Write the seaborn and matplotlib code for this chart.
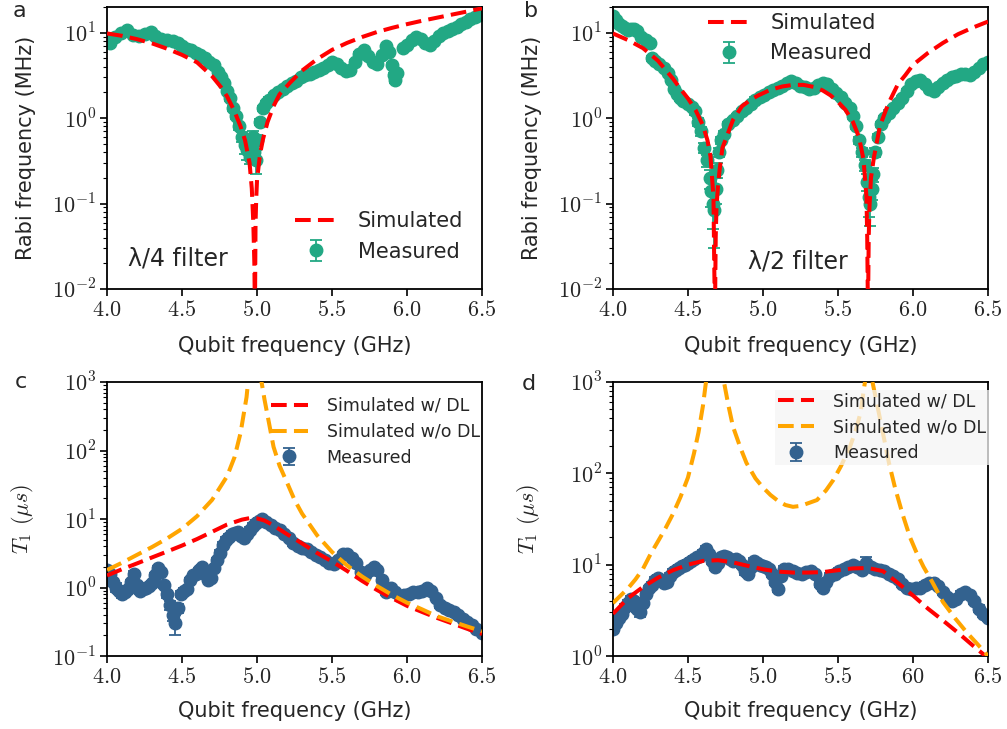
import numpy as np
import pandas as pd
import seaborn as sns
import matplotlib.pyplot as plt
from matplotlib import ticker

# ---------------- data ----------------
# panel a : lambda/4 filter, Rabi frequency (MHz)
fa_meas = [4.00, 4.02, 4.05, 4.09, 4.13, 4.17, 4.21, 4.25, 4.29, 4.32,
           4.36, 4.40, 4.44, 4.47, 4.50, 4.53, 4.56, 4.59, 4.62, 4.65,
           4.68, 4.71, 4.74, 4.76, 4.78, 4.80, 4.82, 4.84, 4.86, 4.88,
           4.90, 4.92, 4.935, 4.95, 4.96, 4.97, 4.98, 4.99, 5.00, 5.02,
           5.04, 5.06, 5.08, 5.11, 5.14, 5.17, 5.20, 5.23, 5.26, 5.29,
           5.32, 5.35, 5.38, 5.41, 5.44, 5.47, 5.50, 5.53, 5.56, 5.59,
           5.62, 5.65, 5.68, 5.71, 5.74, 5.77, 5.80, 5.83, 5.86, 5.88,
           5.90, 5.91, 5.92, 5.93, 5.97, 6.00, 6.03, 6.06, 6.09, 6.12,
           6.15, 6.18, 6.21, 6.24, 6.27, 6.30, 6.33, 6.36, 6.39, 6.42,
           6.45, 6.48, 6.50]
va_meas = [8.0, 7.5, 8.8, 9.8, 10.8, 9.5, 9.2, 9.6, 10.1, 9.2,
           8.5, 8.3, 7.9, 7.6, 7.0, 6.5, 6.2, 5.8, 5.5, 5.0,
           4.6, 4.2, 3.5, 3.0, 2.6, 2.1, 1.7, 1.3, 1.05, 0.8,
           0.6, 0.48, 0.42, 0.35, 0.5, 0.6, 0.4, 0.32, 0.55, 0.9,
           1.3, 1.5, 1.65, 1.85, 2.0, 2.2, 2.35, 2.55, 2.75, 3.0,
           3.2, 3.3, 3.5, 3.7, 3.9, 4.2, 4.5, 4.3, 3.9, 3.6,
           3.7, 4.6, 5.7, 6.2, 5.3, 4.5, 4.3, 5.5, 7.0, 6.0,
           4.2, 3.2, 2.8, 3.4, 6.6, 7.2, 8.2, 8.9, 8.4, 7.6,
           7.2, 8.0, 9.2, 10.0, 10.6, 11.2, 11.8, 12.6, 13.4, 14.5,
           15.3, 16.2, 16.8]
ea_meas = [0.3, 0.3, 0.3, 0.3, 0.3, 0.3, 0.3, 0.3, 0.3, 0.3,
           0.3, 0.3, 0.3, 0.3, 0.3, 0.3, 0.2, 0.2, 0.2, 0.2,
           0.2, 0.2, 0.2, 0.15, 0.15, 0.1, 0.1, 0.1, 0.08, 0.08,
           0.08, 0.1, 0.1, 0.06, 0.08, 0.1, 0.1, 0.1, 0.08, 0.08,
           0.08, 0.1, 0.1, 0.1, 0.1, 0.1, 0.1, 0.1, 0.1, 0.1,
           0.15, 0.15, 0.15, 0.15, 0.15, 0.15, 0.15, 0.15, 0.15, 0.15,
           0.2, 0.2, 0.2, 0.2, 0.2, 0.2, 0.2, 0.2, 0.2, 0.2,
           0.2, 0.2, 0.2, 0.2, 0.2, 0.2, 0.2, 0.2, 0.2, 0.2,
           0.2, 0.2, 0.2, 0.2, 0.2, 0.2, 0.2, 0.2, 0.2, 0.2,
           0.2, 0.2, 0.2]
fa_sim = [4.00, 4.10, 4.20, 4.30, 4.40, 4.50, 4.60, 4.70, 4.76, 4.80,
          4.85, 4.89, 4.92, 4.95, 4.965, 4.975, 4.982, 4.986, 4.99, 4.995,
          5.00, 5.02, 5.04, 5.07, 5.11, 5.15, 5.22, 5.30, 5.40, 5.50,
          5.60, 5.70, 5.80, 5.90, 6.00, 6.10, 6.20, 6.30, 6.40, 6.50]
va_sim = [9.8, 9.2, 8.4, 7.5, 6.5, 5.5, 4.5, 3.1, 2.3, 1.8,
          1.2, 0.8, 0.55, 0.3, 0.15, 0.06, 0.02, 0.005, 0.06, 0.12,
          0.19, 0.38, 0.57, 0.9, 1.38, 1.9, 2.6, 3.6, 4.9, 6.3,
          7.6, 8.9, 10.2, 11.4, 12.6, 13.8, 15.0, 16.3, 17.7, 19.3]

# panel b : lambda/2 filter
fb_meas = [4.00, 4.02, 4.04, 4.06, 4.08, 4.10, 4.12, 4.14, 4.16, 4.19,
           4.22, 4.25, 4.26, 4.28, 4.31, 4.34, 4.37, 4.39, 4.41, 4.43,
           4.45, 4.47, 4.50, 4.53, 4.55, 4.57, 4.59, 4.61, 4.63, 4.645,
           4.655, 4.665, 4.675, 4.685, 4.695, 4.705, 4.72, 4.74, 4.77, 4.80,
           4.83, 4.86, 4.89, 4.92, 4.95, 4.98, 5.01, 5.04, 5.07, 5.10,
           5.13, 5.16, 5.19, 5.22, 5.25, 5.28, 5.31, 5.34, 5.37, 5.40,
           5.43, 5.46, 5.49, 5.52, 5.55, 5.58, 5.60, 5.62, 5.64, 5.66,
           5.68, 5.695, 5.705, 5.715, 5.725, 5.735, 5.75, 5.77, 5.79, 5.81,
           5.84, 5.87, 5.90, 5.93, 5.96, 5.99, 6.02, 6.05, 6.08, 6.11,
           6.14, 6.17, 6.20, 6.23, 6.26, 6.29, 6.32, 6.35, 6.38, 6.41,
           6.44, 6.47, 6.50]
vb_meas = [15.5, 14.0, 12.8, 12.0, 11.3, 10.8, 11.2, 11.0, 10.5, 9.0,
           8.3, 7.6, 5.0, 4.7, 4.3, 3.9, 3.4, 2.8, 2.2, 1.9,
           1.7, 1.6, 1.45, 1.35, 1.2, 0.9, 0.7, 0.45, 0.32, 0.2,
           0.14, 0.1, 0.085, 0.15, 0.25, 0.4, 0.55, 0.65, 0.85, 0.95,
           1.05, 1.2, 1.3, 1.45, 1.65, 1.75, 1.85, 2.0, 2.15, 2.25,
           2.35, 2.55, 2.7, 2.6, 2.4, 2.3, 2.2, 2.25, 2.45, 2.6,
           2.5, 2.2, 1.95, 1.75, 1.5, 1.3, 1.05, 0.8, 0.55, 0.4,
           0.28, 0.18, 0.12, 0.1, 0.15, 0.22, 0.4, 0.6, 0.85, 1.0,
           1.15, 1.3, 1.5, 1.7, 2.1, 2.5, 2.7, 2.8, 2.5, 2.2,
           2.1, 2.3, 2.6, 2.8, 3.0, 3.1, 3.3, 3.3, 3.2, 3.5,
           3.9, 4.3, 4.6]
eb_meas = [0.4, 0.4, 0.4, 0.4, 0.4, 0.4, 0.4, 0.4, 0.4, 0.4,
           0.3, 0.3, 0.3, 0.3, 0.3, 0.2, 0.2, 0.15, 0.1, 0.1,
           0.1, 0.1, 0.1, 0.1, 0.1, 0.1, 0.08, 0.06, 0.05, 0.05,
           0.05, 0.05, 0.055, 0.05, 0.05, 0.05, 0.05, 0.05, 0.06, 0.06,
           0.08, 0.08, 0.08, 0.08, 0.1, 0.1, 0.1, 0.1, 0.1, 0.1,
           0.1, 0.1, 0.1, 0.1, 0.1, 0.1, 0.1, 0.1, 0.1, 0.1,
           0.1, 0.1, 0.1, 0.1, 0.1, 0.1, 0.08, 0.06, 0.05, 0.05,
           0.04, 0.04, 0.05, 0.045, 0.04, 0.04, 0.05, 0.05, 0.06, 0.06,
           0.1, 0.1, 0.1, 0.1, 0.1, 0.1, 0.1, 0.1, 0.1, 0.1,
           0.1, 0.1, 0.1, 0.1, 0.1, 0.1, 0.1, 0.1, 0.1, 0.1,
           0.1, 0.1, 0.1]
fb_sim = [4.00, 4.10, 4.20, 4.30, 4.40, 4.45, 4.50, 4.55, 4.60, 4.63,
          4.65, 4.67, 4.675, 4.68, 4.685, 4.69, 4.70, 4.71, 4.73, 4.77,
          4.80, 4.86, 4.92, 4.97, 5.05, 5.13, 5.20, 5.27, 5.35, 5.40,
          5.45, 5.50, 5.55, 5.60, 5.64, 5.67, 5.69, 5.695, 5.70, 5.705,
          5.71, 5.72, 5.74, 5.78, 5.82, 5.85, 5.90, 5.95, 6.00, 6.10,
          6.20, 6.30, 6.40, 6.50]
vb_sim = [9.8, 8.2, 6.6, 4.7, 2.9, 2.2, 1.7, 1.25, 0.82, 0.55,
          0.36, 0.12, 0.02, 0.005, 0.04, 0.09, 0.16, 0.24, 0.45, 0.69,
          0.95, 1.38, 1.65, 1.85, 2.15, 2.35, 2.45, 2.45, 2.3, 2.1,
          1.85, 1.55, 1.25, 0.9, 0.6, 0.33, 0.12, 0.04, 0.005, 0.04,
          0.09, 0.2, 0.35, 0.81, 1.25, 1.66, 2.5, 3.2, 4.2, 5.8,
          7.6, 9.6, 11.5, 13.5]

# panel c : T1 (us), lambda/4 filter
fc_meas = [4.00, 4.02, 4.04, 4.06, 4.08, 4.10, 4.12, 4.14, 4.16, 4.18,
           4.20, 4.22, 4.24, 4.26, 4.28, 4.30, 4.32, 4.34, 4.36, 4.38,
           4.40, 4.42, 4.44, 4.45, 4.47, 4.49, 4.51, 4.53, 4.55, 4.57,
           4.59, 4.61, 4.63, 4.65, 4.67, 4.69, 4.71, 4.73, 4.75, 4.77,
           4.79, 4.81, 4.83, 4.85, 4.87, 4.89, 4.91, 4.93, 4.95, 4.97,
           4.99, 5.01, 5.03, 5.06, 5.09, 5.12, 5.15, 5.18, 5.21, 5.24,
           5.27, 5.30, 5.33, 5.36, 5.39, 5.42, 5.45, 5.48, 5.51, 5.54,
           5.57, 5.60, 5.63, 5.66, 5.69, 5.72, 5.75, 5.78, 5.80, 5.83,
           5.86, 5.89, 5.92, 5.95, 5.98, 6.01, 6.04, 6.07, 6.10, 6.13,
           6.16, 6.19, 6.22, 6.25, 6.28, 6.31, 6.34, 6.37, 6.40, 6.43,
           6.46, 6.50]
vc_meas = [1.8, 1.6, 1.2, 1.0, 0.9, 0.8, 0.85, 0.95, 1.2, 1.6,
           1.1, 0.9, 0.95, 1.0, 1.05, 1.15, 1.5, 1.9, 1.7, 1.1,
           0.8, 0.55, 0.4, 0.3, 0.5, 0.8, 0.9, 0.95, 1.3, 1.5,
           1.6, 1.8, 2.0, 1.6, 1.3, 1.4, 1.9, 2.5, 3.2, 4.2,
           5.0, 5.5, 6.0, 6.2, 6.5, 5.6, 5.2, 6.0, 7.0, 8.0,
           8.8, 9.5, 10.0, 9.0, 8.2, 7.5, 6.8, 6.0, 5.3, 4.4,
           4.0, 3.8, 3.6, 3.3, 3.0, 2.8, 2.5, 2.3, 2.2, 2.5,
           3.1, 3.1, 2.7, 2.3, 1.7, 1.5, 1.8, 2.0, 1.8, 1.3,
           0.85, 1.0, 0.85, 0.75, 0.78, 0.8, 0.85, 0.85, 0.9, 1.0,
           0.9, 0.7, 0.55, 0.5, 0.47, 0.44, 0.4, 0.35, 0.31, 0.28,
           0.25, 0.22]
ec_meas = [0.15, 0.15, 0.15, 0.15, 0.1, 0.1, 0.1, 0.1, 0.1, 0.15,
           0.1, 0.1, 0.1, 0.1, 0.1, 0.1, 0.15, 0.15, 0.15, 0.1,
           0.1, 0.08, 0.08, 0.1, 0.08, 0.08, 0.08, 0.08, 0.1, 0.1,
           0.1, 0.15, 0.15, 0.15, 0.1, 0.1, 0.15, 0.2, 0.3, 0.4,
           0.5, 0.5, 0.6, 0.6, 0.6, 0.5, 0.5, 0.5, 0.6, 0.8,
           0.8, 0.8, 0.8, 0.6, 0.6, 0.5, 0.5, 0.4, 0.4, 0.3,
           0.3, 0.3, 0.3, 0.2, 0.2, 0.2, 0.2, 0.2, 0.2, 0.2,
           0.2, 0.2, 0.2, 0.2, 0.15, 0.1, 0.1, 0.15, 0.1, 0.1,
           0.06, 0.06, 0.06, 0.05, 0.05, 0.05, 0.06, 0.06, 0.06, 0.06,
           0.06, 0.05, 0.04, 0.04, 0.03, 0.03, 0.03, 0.03, 0.02, 0.02,
           0.02, 0.02]
fc_sim1 = [4.00, 4.10, 4.20, 4.30, 4.40, 4.50, 4.60, 4.70, 4.80, 4.90,
           4.95, 5.00, 5.05, 5.10, 5.20, 5.30, 5.40, 5.50, 5.60, 5.70,
           5.80, 5.90, 6.00, 6.10, 6.20, 6.30, 6.40, 6.50]
vc_sim1 = [1.5, 1.85, 2.25, 2.75, 3.35, 4.1, 5.1, 6.5, 8.3, 9.8,
           10.3, 10.2, 9.5, 8.3, 6.0, 4.4, 3.2, 2.4, 1.75, 1.25,
           0.92, 0.7, 0.54, 0.44, 0.36, 0.3, 0.25, 0.21]
fc_sim2 = [4.00, 4.10, 4.20, 4.30, 4.40, 4.50, 4.60, 4.70, 4.80, 4.85,
           4.89, 4.93, 4.94, 4.96, 4.985, 5.01, 5.03, 5.05, 5.08, 5.11,
           5.15, 5.20, 5.25, 5.30, 5.40, 5.50, 5.60, 5.70, 5.80, 5.90,
           6.00, 6.10, 6.20, 6.30, 6.40, 6.50]
vc_sim2 = [1.8, 2.3, 3.0, 3.9, 5.2, 7.2, 11.0, 19, 42, 80,
           180, 600, 1000, 3000, 8000, 3000, 1000, 550, 250, 113,
           60, 34, 19, 12, 5.8, 3.3, 2.1, 1.45, 1.05, 0.78,
           0.6, 0.48, 0.38, 0.32, 0.27, 0.23]

# panel d : T1 (us), lambda/2 filter
fd_meas = [4.00, 4.02, 4.04, 4.06, 4.08, 4.10, 4.12, 4.14, 4.16, 4.18,
           4.20, 4.22, 4.24, 4.26, 4.28, 4.30, 4.32, 4.34, 4.36, 4.38,
           4.40, 4.42, 4.44, 4.46, 4.48, 4.50, 4.52, 4.54, 4.56, 4.58,
           4.60, 4.62, 4.64, 4.66, 4.68, 4.70, 4.72, 4.74, 4.76, 4.78,
           4.80, 4.82, 4.84, 4.86, 4.88, 4.90, 4.92, 4.94, 4.96, 4.98,
           5.00, 5.02, 5.04, 5.06, 5.08, 5.10, 5.12, 5.14, 5.17, 5.20,
           5.23, 5.26, 5.29, 5.32, 5.35, 5.38, 5.40, 5.42, 5.45, 5.48,
           5.51, 5.54, 5.57, 5.60, 5.63, 5.66, 5.69, 5.72, 5.75, 5.78,
           5.81, 5.84, 5.87, 5.90, 5.93, 5.96, 5.99, 6.02, 6.05, 6.08,
           6.11, 6.14, 6.17, 6.20, 6.23, 6.26, 6.29, 6.32, 6.35, 6.38,
           6.41, 6.44, 6.47, 6.50]
vd_meas = [2.0, 2.3, 2.6, 2.9, 3.4, 3.8, 4.2, 4.0, 3.3, 3.0,
           3.8, 4.8, 5.5, 6.0, 6.8, 7.2, 6.8, 6.3, 6.5, 7.5,
           8.3, 8.8, 9.2, 9.6, 10.0, 10.5, 11.0, 11.5, 12.0, 12.5,
           13.5, 15.0, 13.0, 11.0, 9.5, 10.5, 12.0, 12.5, 12.0, 11.5,
           11.0, 11.5, 11.0, 10.0, 8.5, 8.0, 9.5, 11.0, 10.5, 10.0,
           9.6, 9.4, 9.0, 8.0, 6.5, 5.4, 7.5, 9.0, 9.0, 8.5,
           8.2, 8.0, 8.3, 8.6, 8.0, 6.2, 5.6, 6.5, 7.5, 8.0,
           8.5, 9.0, 9.5, 10.0, 9.4, 8.8, 10.5, 9.5, 9.0, 8.7,
           8.5, 8.0, 7.5, 7.0, 6.2, 5.6, 5.4, 5.5, 5.6, 6.0,
           6.3, 6.3, 5.8, 5.0, 4.4, 4.0, 4.2, 4.8, 5.0, 4.6,
           4.0, 3.3, 2.9, 2.6]
ed_meas = [0.2, 0.2, 0.2, 0.2, 0.3, 0.3, 0.3, 0.3, 0.3, 0.3,
           0.3, 0.4, 0.4, 0.5, 0.5, 0.6, 0.5, 0.5, 0.5, 0.6,
           0.6, 0.7, 0.7, 0.7, 0.8, 0.8, 0.8, 0.9, 0.9, 0.9,
           1.0, 1.0, 1.0, 0.9, 0.8, 0.8, 0.9, 0.9, 0.9, 0.9,
           0.9, 0.9, 0.9, 0.8, 0.7, 0.6, 0.7, 0.8, 0.8, 0.8,
           0.7, 0.7, 0.7, 0.6, 0.5, 0.4, 0.6, 0.7, 0.7, 0.6,
           0.6, 0.6, 0.6, 0.6, 0.6, 0.5, 0.4, 0.5, 0.6, 0.6,
           0.6, 0.7, 0.7, 0.8, 0.7, 0.7, 1.5, 0.7, 0.7, 0.6,
           0.6, 0.6, 0.5, 0.5, 0.5, 0.4, 0.4, 0.4, 0.4, 0.4,
           0.5, 0.5, 0.4, 0.4, 0.3, 0.3, 0.3, 0.4, 0.4, 0.3,
           0.3, 0.3, 0.2, 0.2]
fd_sim1 = [4.00, 4.10, 4.20, 4.30, 4.40, 4.50, 4.60, 4.70, 4.80, 4.90,
           5.00, 5.10, 5.20, 5.30, 5.40, 5.50, 5.60, 5.70, 5.80, 5.90,
           6.00, 6.10, 6.20, 6.30, 6.40, 6.50]
vd_sim1 = [2.9, 4.3, 5.7, 7.2, 8.7, 10.0, 11.0, 11.2, 10.6, 9.7,
           8.9, 8.4, 8.2, 8.2, 8.3, 8.7, 9.1, 9.2, 8.5, 6.3,
           4.6, 3.3, 2.45, 1.8, 1.3, 0.95]
fd_sim2 = [4.00, 4.10, 4.15, 4.20, 4.25, 4.30, 4.35, 4.40, 4.45, 4.50,
           4.54, 4.57, 4.60, 4.62, 4.65, 4.68, 4.71, 4.74, 4.77, 4.80,
           4.85, 4.89, 4.95, 5.00, 5.05, 5.10, 5.15, 5.20, 5.25, 5.30,
           5.36, 5.42, 5.47, 5.52, 5.58, 5.62, 5.65, 5.68, 5.705, 5.73,
           5.77, 5.80, 5.84, 5.88, 5.93, 5.98, 6.02, 6.07, 6.13, 6.20,
           6.28, 6.36, 6.43, 6.50]
vd_sim2 = [3.8, 5.5, 6.9, 9.0, 13, 18, 25, 36, 55, 90,
           165, 280, 550, 1000, 3000, 8000, 3000, 1000, 550, 325,
           190, 130, 88, 70, 58, 50, 45, 43, 44, 47,
           51, 65, 85, 120, 195, 300, 460, 1000, 4000, 1000,
           480, 275, 130, 70, 36, 20, 14, 9.5, 6.4, 3.9,
           2.6, 1.8, 1.35, 1.0]

x_ticks = [4.0, 4.5, 5.0, 5.5, 6.0, 6.5]
x_labels_abc = ["4.0", "4.5", "5.0", "5.5", "6.0", "6.5"]
x_labels_d = ["4.0", "4.5", "5.0", "5.5", "60", "6.5"]

# ---------------- style ----------------
sns.set_style("ticks")
plt.rcParams["font.family"] = ["DejaVu Sans"]
plt.rcParams["mathtext.fontset"] = "cm"
plt.rcParams["axes.linewidth"] = 1.3
plt.rcParams["axes.edgecolor"] = "black"

teal = "#22a884"
blue = "#33628f"
red = "#ff0000"
orange = "#ffa500"
dash = (0, (3.9, 1.8))

fig = plt.figure(figsize=(10.07, 7.29), dpi=100)
ax_a = fig.add_axes([0.1063, 0.6036, 0.3724, 0.3868])
ax_b = fig.add_axes([0.6087, 0.6036, 0.3724, 0.3868])
ax_c = fig.add_axes([0.1063, 0.1001, 0.3724, 0.3759])
ax_d = fig.add_axes([0.6087, 0.1001, 0.3724, 0.3759])


def setup(ax, ylim, xlabels, ylabel):
    ax.set_yscale("log")
    ax.set_xlim(4.0, 6.5)
    ax.set_ylim(*ylim)
    ax.set_xticks(x_ticks)
    ax.set_xticklabels([f"${s}$" for s in xlabels])
    ax.yaxis.set_major_formatter(ticker.FuncFormatter(
        lambda v, p: r"$10^{%d}$" % int(round(np.log10(v)))))
    ax.yaxis.set_minor_formatter(ticker.NullFormatter())
    ax.yaxis.set_minor_locator(ticker.LogLocator(base=10, subs=np.arange(2, 10), numticks=20))
    ax.tick_params(axis="both", which="major", direction="out", length=5, width=1.2,
                   labelsize=16, pad=3, color="black")
    ax.tick_params(axis="y", which="minor", direction="out", length=3, width=0.8, color="black")
    ax.set_xlabel("Qubit frequency (GHz)", fontsize=15)
    ax.set_ylabel(ylabel, fontsize=15 if "Rabi" in ylabel else 16)
    ax.xaxis.set_label_coords(0.5, -0.165)
    ax.yaxis.set_label_coords(-0.19, 0.5)
    for s in ax.spines.values():
        s.set_visible(True)
        s.set_color("black")


def measured(ax, f, v, e, color):
    ax.errorbar(f, v, yerr=e, fmt="o", ms=9, color=color, ecolor=color,
                elinewidth=1.3, capsize=4, capthick=1.3, zorder=2, label="Measured")


def simulated(ax, f, v, color, label):
    sns.lineplot(x=f, y=v, ax=ax, color=color, lw=2.9, linestyle=dash,
                 label=label, zorder=3, sort=False)


# panel a
setup(ax_a, (0.01, 20), x_labels_abc, "Rabi frequency (MHz)")
measured(ax_a, fa_meas, va_meas, ea_meas, teal)
simulated(ax_a, fa_sim, va_sim, red, "Simulated")
ax_a.legend(loc="lower right", bbox_to_anchor=(1.0, 0.03), frameon=False, fontsize=15,
            handletextpad=1.0, handlelength=2.0)
ax_a.text(0.056, 0.085, "λ/4 filter", transform=ax_a.transAxes, fontsize=17, va="baseline")

# panel b
setup(ax_b, (0.01, 20), x_labels_abc, "Rabi frequency (MHz)")
measured(ax_b, fb_meas, vb_meas, eb_meas, teal)
simulated(ax_b, fb_sim, vb_sim, red, "Simulated")
ax_b.legend(loc="upper center", bbox_to_anchor=(0.477, 1.045), frameon=False, fontsize=15,
            handletextpad=1.0, handlelength=2.0)
ax_b.text(0.36, 0.074, "λ/2 filter", transform=ax_b.transAxes, fontsize=17, va="baseline")

# panel c
setup(ax_c, (0.1, 1000), x_labels_abc, r"$T_1$ $(\mu s)$")
measured(ax_c, fc_meas, vc_meas, ec_meas, blue)
simulated(ax_c, fc_sim1, vc_sim1, red, "Simulated w/ DL")
simulated(ax_c, fc_sim2, vc_sim2, orange, "Simulated w/o DL")
ax_c.legend(loc="upper left", bbox_to_anchor=(0.419, 0.971), borderaxespad=0, frameon=False,
            fontsize=12.5, handletextpad=1.1, handlelength=2.1, labelspacing=0.45)

# panel d
setup(ax_d, (1, 1000), x_labels_d, r"$T_1$ $(\mu s)$")
measured(ax_d, fd_meas, vd_meas, ed_meas, blue)
simulated(ax_d, fd_sim1, vd_sim1, red, "Simulated w/ DL")
simulated(ax_d, fd_sim2, vd_sim2, orange, "Simulated w/o DL")
leg = ax_d.legend(loc="upper left", bbox_to_anchor=(0.432, 0.971), borderaxespad=0,
                  frameon=True, fontsize=12.5, handletextpad=1.1, handlelength=2.1,
                  labelspacing=0.45, borderpad=0.15, fancybox=False)
leg.get_frame().set_facecolor("#f5f5f5")
leg.get_frame().set_edgecolor("none")
leg.get_frame().set_alpha(0.75)

# panel letters
for x, y, s in [(0.013, 0.977, "a"), (0.52, 0.977, "b"), (0.015, 0.468, "c"), (0.518, 0.465, "d")]:
    fig.text(x, y, s, fontsize=16, va="baseline")

fig.savefig("out.png", dpi=100)
